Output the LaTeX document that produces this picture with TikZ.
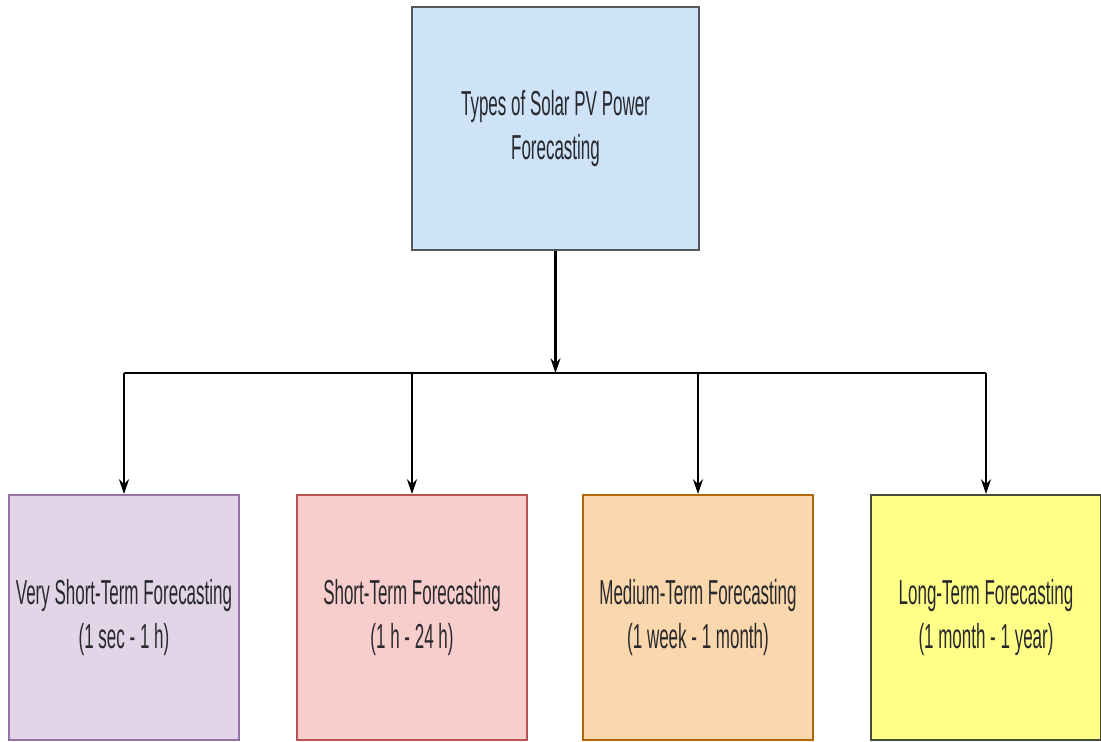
\documentclass[tikz,border=0pt]{standalone}
\usepackage{fontspec}
\newfontfamily\narrowfont[FakeStretch=0.49]{Liberation Sans}
\usetikzlibrary{arrows.meta}

\definecolor{rootfill}{RGB}{206,226,248}
\definecolor{rootline}{RGB}{85,85,90}
\definecolor{vstfill}{RGB}{225,213,231}
\definecolor{vstline}{RGB}{150,115,166}
\definecolor{stfill}{RGB}{248,206,204}
\definecolor{stline}{RGB}{184,84,80}
\definecolor{mtfill}{RGB}{250,215,172}
\definecolor{mtline}{RGB}{180,101,4}
\definecolor{ltfill}{RGB}{255,255,136}
\definecolor{ltline}{RGB}{70,75,60}
\definecolor{txt}{RGB}{40,40,45}

\begin{document}
\begin{tikzpicture}[x=0.75pt,y=0.75pt,yscale=-1,xscale=1,
  box/.style={draw,line width=1.5pt,align=center,text=txt,inner sep=0pt,
    font={\fontsize{26}{33}\selectfont\narrowfont}},
  leaf/.style={box,minimum width=172.5pt,minimum height=183.75pt},
  conn/.style={line width=1.6pt,draw=black},
  arr/.style={conn,-{Stealth[length=11pt,width=7.5pt]}}]
\useasboundingbox (0,0) rectangle (1101,742);

%Shape: Rectangle [root]
\node [box,fill=rootfill,draw=rootline,minimum width=215.25pt,minimum height=182.25pt] (root) at (555.5,128.5) {Types of Solar PV Power\\Forecasting};

%Shape: Rectangle [leaves]
\node [leaf,fill=vstfill,draw=vstline] (vst) at (124,617.5) {Very Short-Term Forecasting\\(1 sec - 1 h)};
\node [leaf,fill=stfill,draw=stline] (st) at (412,617.5) {Short-Term Forecasting\\(1 h - 24 h)};
\node [leaf,fill=mtfill,draw=mtline] (mt) at (698,617.5) {Medium-Term Forecasting\\(1 week - 1 month)};
\node [leaf,fill=ltfill,draw=ltline] (lt) at (986,617.5) {Long-Term Forecasting\\(1 month - 1 year)};

%Straight Lines
\coordinate (bus) at (555.5,373);
\draw [arr] (root.south) -- (bus);
\draw [conn] (vst.north |- bus) -- (lt.north |- bus);
\foreach \leaf in {vst,st,mt,lt}
  \draw [arr] (\leaf.north |- bus) -- (\leaf.north);

\end{tikzpicture}
\end{document}
